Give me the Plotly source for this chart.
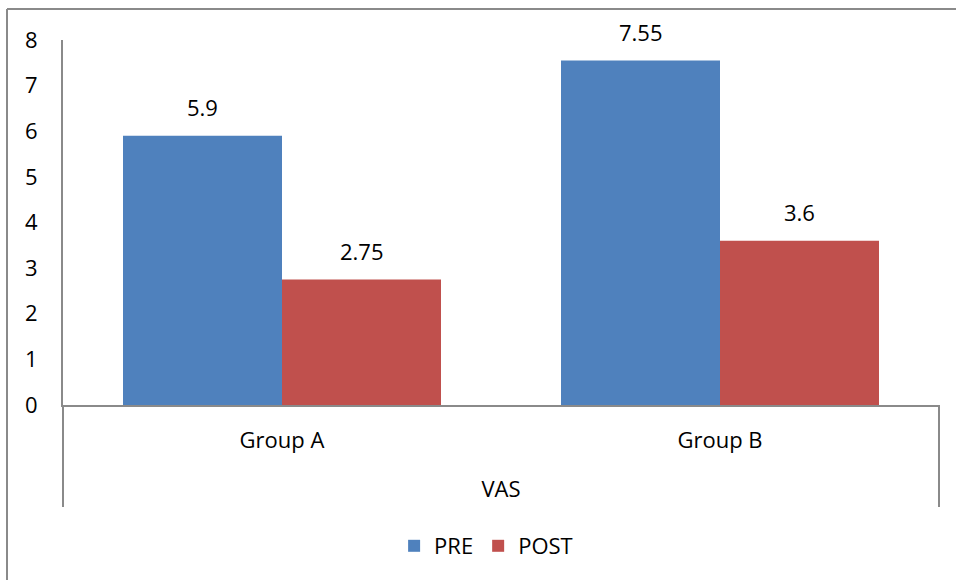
import plotly.graph_objects as go

categories = ["Group A", "Group B"]
pre_values = [5.9, 7.55]
post_values = [2.75, 3.6]
series_names = ["PRE", "POST"]
y_ticks = [0, 1, 2, 3, 4, 5, 6, 7, 8]
axis_title = "VAS"

BLUE = "#4F81BD"
RED = "#C0504D"
AX = "#8a8a8a"
FONT = "Open Sans"
FS = 22

W, H = 956, 580
ML, MR, MT, MB = 63, 17, 40, 175
PW, PH = W - ML - MR, H - MT - MB

bar_w = 159 / 438  # fraction of a category slot taken by one bar
xs = list(range(len(categories)))

fig = go.Figure()
fig.add_trace(go.Bar(x=xs, y=pre_values, name=series_names[0], width=bar_w,
                     offset=-bar_w, marker=dict(color=BLUE, line=dict(width=0))))
fig.add_trace(go.Bar(x=xs, y=post_values, name=series_names[1], width=bar_w,
                     offset=0, marker=dict(color=RED, line=dict(width=0))))

annotations = []
for vals, off in ((pre_values, -bar_w / 2), (post_values, bar_w / 2)):
    for x, v in zip(xs, vals):
        annotations.append(dict(x=x + off, y=v, xref="x", yref="y", text=f"{v:g}",
                                showarrow=False, yanchor="middle", yshift=29,
                                font=dict(family=FONT, size=FS, color="black")))

def py(px):
    return (MT + PH - px) / PH

def pxx(px):
    return (px - ML) / PW

ext = 102 / PH
shapes = [
    dict(type="line", xref="paper", yref="paper", x0=0, x1=0, y0=-ext, y1=0,
         line=dict(color=AX, width=2)),
    dict(type="line", xref="paper", yref="paper", x0=1, x1=1, y0=-ext, y1=0,
         line=dict(color=AX, width=2)),
    # outer chart frame
    dict(type="line", xref="paper", yref="paper", x0=pxx(7), x1=pxx(7),
         y0=py(600), y1=py(9), line=dict(color=AX, width=2)),
    dict(type="line", xref="paper", yref="paper", x0=pxx(7), x1=pxx(980),
         y0=py(9), y1=py(9), line=dict(color=AX, width=2)),
]

fig.update_layout(
    width=W, height=H,
    margin=dict(l=ML, r=MR, t=MT, b=MB, autoexpand=False),
    paper_bgcolor="white", plot_bgcolor="white",
    font=dict(family=FONT, size=FS, color="black"),
    showlegend=True,
    legend=dict(orientation="h", x=0.483, xanchor="center", y=py(546),
                yanchor="middle", font=dict(family=FONT, size=FS, color="black")),
    annotations=annotations,
    shapes=shapes,
    xaxis=dict(range=[-0.5, len(categories) - 0.5], tickvals=xs, ticktext=categories,
               showline=True, linecolor=AX, linewidth=2, showgrid=False, zeroline=False,
               ticks="", ticklabelstandoff=15, automargin=False,
               title=dict(text=axis_title, standoff=28, font=dict(family=FONT, size=FS))),
    yaxis=dict(range=[0, 8], tickvals=y_ticks, showline=True, linecolor=AX, linewidth=2,
               showgrid=False, zeroline=False, ticks="", ticklabelstandoff=19,
               automargin=False),
)

fig.write_html("out.html")
